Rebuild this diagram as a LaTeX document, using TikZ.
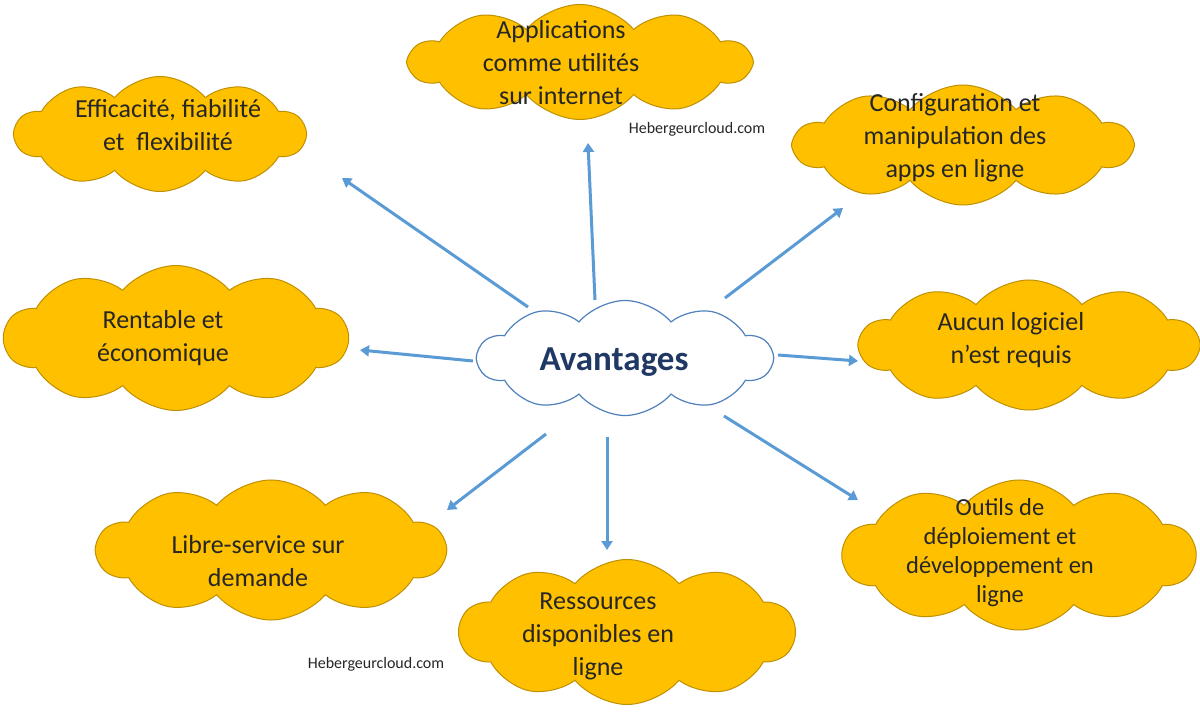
\documentclass[tikz,border=0pt]{standalone}
\usepackage{fontspec}
\setmainfont{Carlito}
\usetikzlibrary{shapes.symbols,arrows.meta}
\definecolor{cloudfill}{HTML}{FFC000}
\definecolor{clouddraw}{HTML}{BF9000}
\definecolor{centerdraw}{HTML}{4F81BD}
\definecolor{arrowblue}{HTML}{5B9BD5}
\definecolor{txt}{HTML}{262626}
\definecolor{navy}{HTML}{1F3864}
\tikzset{
  puff/.style={cloud, cloud puffs=10, cloud puff arc=100, cloud ignores aspect,
    fill=cloudfill, draw=clouddraw, line width=1pt, inner sep=0pt},
  centercloud/.style={cloud, cloud puffs=10, cloud puff arc=100, cloud ignores aspect,
    fill=white, draw=centerdraw, line width=1.2pt, inner sep=0pt},
  lbl/.style={align=center, text=txt, font=\fontsize{26}{33}\selectfont, inner sep=0pt},
  arr/.style={draw=arrowblue, line width=3pt, -{Triangle[width=11pt,length=9pt]}},
  wmark/.style={text=txt, font=\fontsize{16}{19}\selectfont, inner sep=0pt}
}
\begin{document}
\begin{tikzpicture}[x=1pt,y=-1pt]
\useasboundingbox (0,0) rectangle (1200,714);
\fill[white] (0,0) rectangle (1200,714);
% clouds
\node[puff, minimum width=290pt, minimum height=115pt] (c1) at (160,134) {};
\node[puff, minimum width=340pt, minimum height=115pt] (c2) at (580,62) {};
\node[puff, minimum width=337pt, minimum height=120pt] (c3) at (963,145) {};
\node[puff, minimum width=343pt, minimum height=145pt] (c4) at (176,338) {};
\node[centercloud, minimum width=294pt, minimum height=115pt] (av) at (625,358) {};
\node[puff, minimum width=338pt, minimum height=130pt] (c6) at (1029,345) {};
\node[puff, minimum width=348pt, minimum height=140pt] (c7) at (271,550) {};
\node[puff, minimum width=335pt, minimum height=145pt] (c8) at (627,632) {};
\node[puff, minimum width=352pt, minimum height=150pt] (c9) at (1019,555) {};
% texts
\node[lbl] (t1) at (168,125) {Efficacité, fiabilité\\et\ \ flexibilité};
\node[lbl] (t2) at (561,63) {Applications\\comme utilités\\sur internet};
\node[lbl] (t3) at (955,138) {Configuration et\\manipulation des\\apps en ligne};
\node[lbl] (t4) at (163,338) {Rentable et\\économique};
\node[text=navy, font=\fontsize{35}{40}\selectfont\bfseries, inner sep=0pt] (ta) at (614,362) {Avantages};
\node[lbl] (t6) at (1011,340) {Aucun logiciel\\n’est requis};
\node[lbl] (t7) at (258,561) {Libre-service sur\\demande};
\node[lbl] (t8) at (598,636) {Ressources\\disponibles en\\ligne};
\node[lbl, font=\fontsize{24.5}{29}\selectfont] (t9) at (1000,553) {Outils de\\déploiement et\\développement en\\ligne};
\node[wmark] (m1) at (697,129) {Hebergeurcloud.com};
\node[wmark] (m2) at (376,664) {Hebergeurcloud.com};
% arrow ends
\coordinate (s1) at (528,307); \coordinate (e1) at (342,178);
\coordinate (s2) at (595,300); \coordinate (e2) at (588,143);
\coordinate (s3) at (725,298); \coordinate (e3) at (843,208);
\coordinate (s4) at (473,361); \coordinate (e4) at (360,350);
\coordinate (s6) at (778,355); \coordinate (e6) at (858,361);
\coordinate (s7) at (546,434); \coordinate (e7) at (447,510);
\coordinate (s8) at (607,437); \coordinate (e8) at (607,550);
\coordinate (s9) at (724,416); \coordinate (e9) at (858,500);
\foreach \i in {1,2,3,4,6,7,8,9} { \draw[arr] (s\i) -- (e\i); }
\end{tikzpicture}
\end{document}
